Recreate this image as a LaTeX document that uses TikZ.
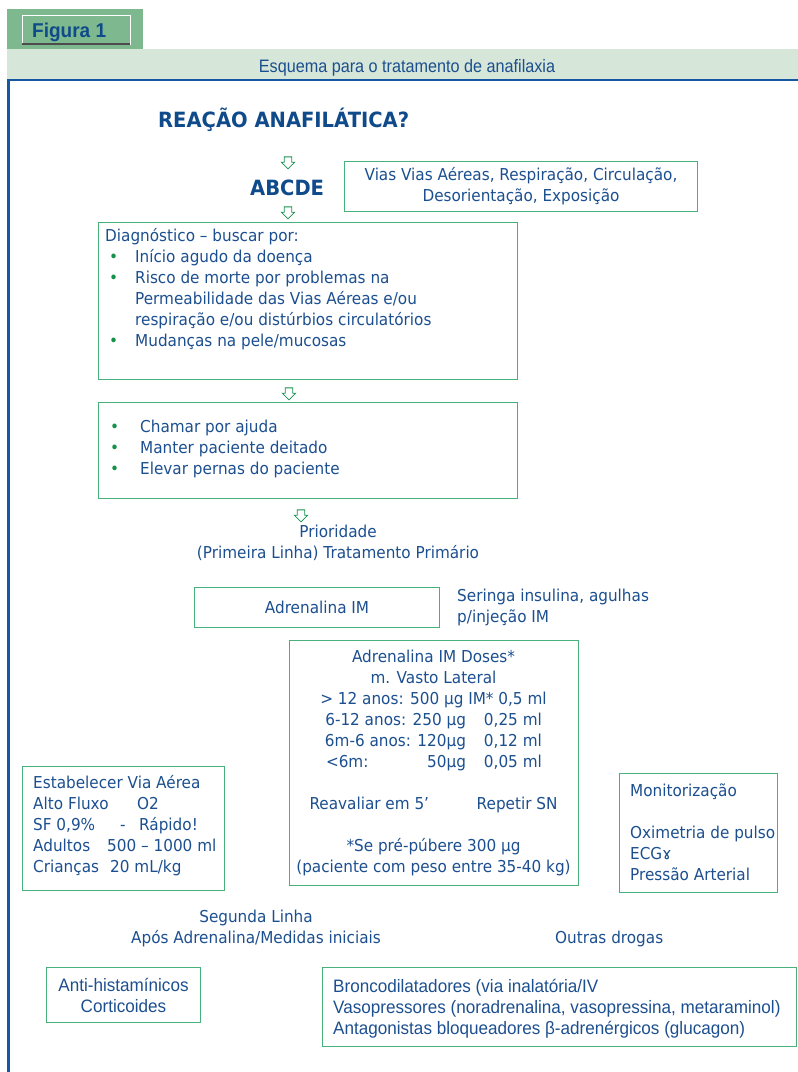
\documentclass[tikz,border=0pt]{standalone}
\usepackage{fontspec}
\setmainfont{DejaVu Sans}[FakeStretch=0.93]
\newfontfamily\narrowfont{Liberation Sans}[FakeStretch=0.9]
\newfontfamily\narrowerfont{Liberation Sans}[FakeStretch=0.95]
\usetikzlibrary{shapes.arrows,positioning}
\definecolor{txtblue}{HTML}{1C4F8F}
\definecolor{headblue}{HTML}{0F4A8A}
\definecolor{frameblue}{HTML}{1557A0}
\definecolor{boxgreen}{HTML}{48B07A}
\definecolor{bulgreen}{HTML}{17904C}
\definecolor{tabgreen}{HTML}{7DB88E}
\definecolor{bandgreen}{HTML}{D6E6D8}
\newcommand{\bul}{\textcolor{bulgreen}{•}}
\tikzset{
  box/.style={draw=boxgreen, line width=1pt, anchor=north west, inner sep=0pt},
  txt/.style={text=txtblue, inner sep=0pt, font=\fontsize{16.4}{21}\selectfont},
  narrowtxt/.style={text=txtblue, inner sep=0pt, font=\narrowerfont\fontsize{18}{21}\selectfont},
  headtxt/.style={text=headblue, inner sep=0pt, font=\bfseries\fontsize{21}{21}\selectfont},
  downarrow/.style={single arrow, draw=bulgreen, line width=0.8pt, shape border rotate=270,
    inner sep=3.3pt, minimum height=12pt, single arrow head extend=3pt}
}
\begin{document}
\begin{tikzpicture}[x=1pt,y=-1pt]
\useasboundingbox (0,0) rectangle (798,1072);
% header
\fill[tabgreen] (7,9) rectangle (143,49);
\node[draw=white, fill=tabgreen, minimum width=108pt, minimum height=29pt, anchor=north west, inner sep=0pt] (figbox) at (22,15) {};
\draw[line width=2pt, black!70] (figbox.south west) -- (figbox.south east);
\node[anchor=base west, text=headblue, inner sep=0pt, font=\narrowerfont\bfseries\fontsize{20}{21}\selectfont] (figtxt) at (32,37) {Figura 1};
\fill[bandgreen] (7,49) rectangle (798,80);
\node[text=txtblue, inner sep=0pt, font=\narrowfont\fontsize{18}{21}\selectfont, anchor=base] (title) at (407,72) {Esquema para o tratamento de anafilaxia};
\draw[frameblue, line width=2.5pt] (798,80) -- (8.5,80) -- (8.5,1072);

% top of the flow
\node[headtxt, anchor=base west] (reacao) at (158,127) {REAÇÃO ANAFILÁTICA?};
\node[downarrow] (arr1) at (288,161) {};
\node[headtxt, anchor=base west] (abcde) at (250,195) {ABCDE};
\node[downarrow] (arr2) at (288,211) {};
\node[box, minimum width=353pt, minimum height=50pt] (vias) at (344,161) {};
\node[txt, align=center] (viastxt) at (vias.center) {Vias Vias Aéreas, Respiração, Circulação,\\Desorientação, Exposição};

% diagnostico
\node[box, minimum width=419pt, minimum height=157pt] (diag) at (98,222) {};
\node[txt, align=left, anchor=base west] (diagtxt) at (105,346) {Diagnóstico – buscar por:\\
\hspace*{4pt}\makebox[26pt][l]{\bul}Início agudo da doença\\
\hspace*{4pt}\makebox[26pt][l]{\bul}Risco de morte por problemas na\\
\hspace*{30pt}Permeabilidade das Vias Aéreas e/ou\\
\hspace*{30pt}respiração e/ou distúrbios circulatórios\\
\hspace*{4pt}\makebox[26pt][l]{\bul}Mudanças na pele/mucosas};
\node[downarrow] (arr3) at (289,392) {};

\node[box, minimum width=419pt, minimum height=96pt] (ajuda) at (98,402) {};
\node[txt, align=left, anchor=base west] (ajudatxt) at (110,474) {\makebox[30pt][l]{\bul}Chamar por ajuda\\
\makebox[30pt][l]{\bul}Manter paciente deitado\\
\makebox[30pt][l]{\bul}Elevar pernas do paciente};
\node[downarrow] (arr4) at (301,514) {};

\node[txt, align=center, anchor=base] (prior) at (338,558) {Prioridade\\(Primeira Linha) Tratamento Primário};

% primeira linha
\node[box, minimum width=245pt, minimum height=40pt] (adren) at (194,587) {};
\node[txt] (adrentxt) at (adren.center) {Adrenalina IM};
\node[txt, align=left, anchor=base west] (seringa) at (457,622) {Seringa insulina, agulhas\\p/injeção IM};

\node[box, minimum width=289pt, minimum height=245pt] (doses) at (289,640) {};
\node[txt, align=center, anchor=base] (dosestxt) at (433.5,872) {Adrenalina IM Doses*\\
m. Vasto Lateral\\
> 12 anos: 500 µg IM* 0,5 ml\\
\makebox[140pt][r]{6-12 anos: 250 µg}\hspace{18pt}\makebox[57pt][l]{0,25 ml}\\
\makebox[140pt][r]{6m-6 anos: 120µg}\hspace{18pt}\makebox[57pt][l]{0,12 ml}\\
\makebox[140pt][s]{<6m:\hfill 50µg}\hspace{18pt}\makebox[57pt][l]{0,05 ml}\\[21pt]
\makebox[248pt][s]{Reavaliar em 5’\hfill Repetir SN}\\[21pt]
*Se pré-púbere 300 µg\\
(paciente com peso entre 35-40 kg)};

\node[box, minimum width=202pt, minimum height=124pt] (via) at (22,766) {};
\node[txt, align=left, anchor=base west] (viatxt) at (33,872) {Estabelecer Via Aérea\\
\makebox[104pt][l]{Alto Fluxo}O2\\
\makebox[87pt][l]{SF 0,9\%}\makebox[19pt][l]{-}Rápido!\\
\makebox[74pt][l]{Adultos}500 – 1000 ml\\
\makebox[77pt][l]{Crianças}20 mL/kg};

\node[box, minimum width=158pt, minimum height=119pt] (monit) at (619,773) {};
\node[txt, align=left, anchor=base west] (monittxt) at (630,880) {Monitorização\\[21pt]
Oximetria de pulso\\
ECGɤ\\
Pressão Arterial};

% segunda linha
\node[txt, align=center, anchor=base] (segunda) at (256,943) {Segunda Linha\\Após Adrenalina/Medidas iniciais};
\node[txt, anchor=base west] (outras) at (555,943) {Outras drogas};

\node[box, minimum width=154pt, minimum height=55pt] (anti) at (46,967) {};
\node[narrowtxt, align=center] (antitxt) at (anti.center) {Anti-histamínicos\\Corticoides};
\node[box, minimum width=474pt, minimum height=79pt] (bronco) at (322,967) {};
\node[narrowtxt, align=left, anchor=base west] (broncotxt) at (333,1034) {Broncodilatadores (via inalatória/IV\\
Vasopressores (noradrenalina, vasopressina, metaraminol)\\
Antagonistas bloqueadores β-adrenérgicos (glucagon)};
\end{tikzpicture}
\end{document}
